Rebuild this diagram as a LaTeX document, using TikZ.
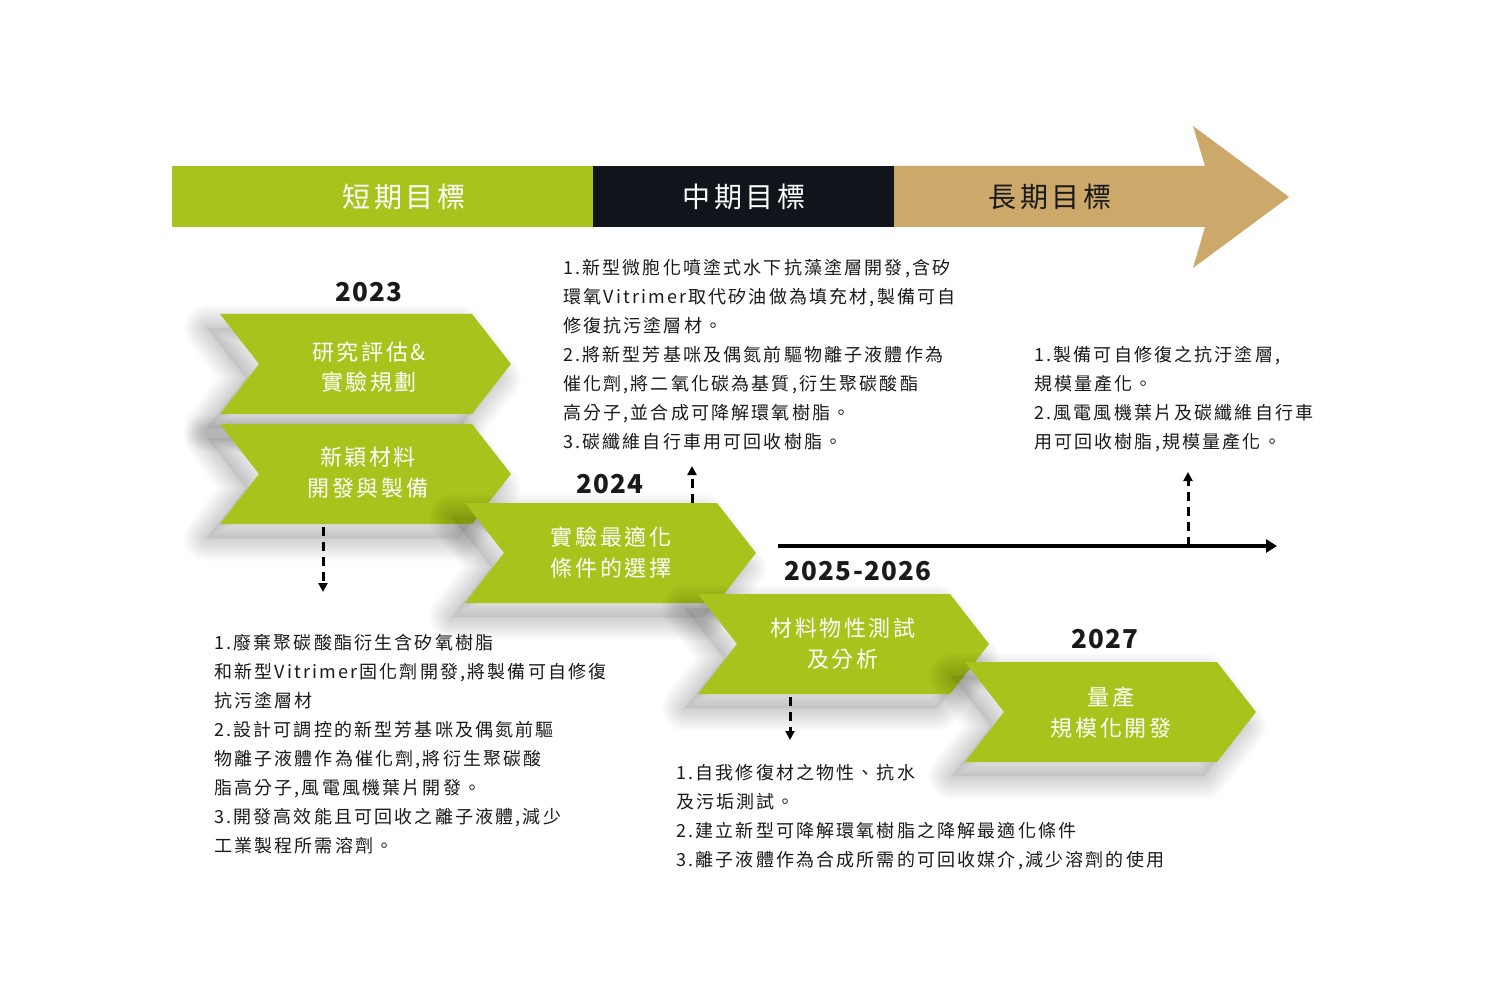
\documentclass[tikz,border=0pt]{standalone}
\usepackage{fontspec}
\setmainfont{Noto Sans CJK TC}
\newfontfamily\bodyfont[LetterSpace=12]{Noto Sans CJK TC}
\newfontfamily\yearfont[LetterSpace=5]{Noto Sans CJK TC}
\usetikzlibrary{arrows.meta}
\definecolor{lime}{HTML}{A8C31C}
\definecolor{ink}{HTML}{10151C}
\definecolor{tan}{HTML}{CCA86A}
\definecolor{txt}{HTML}{1A1A1A}
\newcommand\chevpath[2]{(#1,#2) -- ++(252,0) -- ++(39,50) -- ++(-39,50) -- ++(-252,0) -- ++(39,-50) -- cycle}
\newcommand\chevshape[2]{%
  \foreach \w in {46,42,...,2} {\draw[softshadow, line width=\w pt] \chevpath{#1-13}{#2+14};}
  \fill[black, opacity=0.06] \chevpath{#1-13}{#2+14};
  \fill[chev] \chevpath{#1}{#2};}
\begin{document}
\begin{tikzpicture}[x=1pt,y=-1pt,
  softshadow/.style={black, opacity=0.016, line join=round},
  chev/.style={fill=lime},
  chevtext/.style={text=white, align=center, anchor=base, inner sep=0pt, font=\bodyfont\fontsize{22pt}{31pt}\selectfont},
  bodytext/.style={text=txt, align=left, anchor=base west, inner sep=0pt, font=\bodyfont\fontsize{18pt}{29pt}\selectfont},
  yeartext/.style={text=txt, anchor=base, inner sep=0pt, font=\yearfont\bfseries\fontsize{26pt}{30pt}\selectfont},
  headtext/.style={anchor=base, inner sep=0pt, font=\bodyfont\fontsize{28pt}{32pt}\selectfont},
  dashline/.style={line width=3pt, dash pattern=on 9pt off 6pt, -{Triangle[length=9pt,width=9pt]}},
  timeline/.style={line width=4pt, -{Triangle[length=11pt,width=13pt]}}]
\useasboundingbox (0,0) rectangle (1500,1000);
\fill[white] (0,0) rectangle (1500,1000);

% top arrow bar
\fill[tan] (894,166) -- (1205,166) -- (1193,126) -- (1289,197) -- (1193,268) -- (1205,227) -- (894,227) -- cycle;
\fill[lime] (172,166) rectangle (593,227);
\fill[ink] (593,166) rectangle (894,227);
\node[headtext, text=white] (h1) at (404,208) {短期目標};
\node[headtext, text=white] (h2) at (744,208) {中期目標};
\node[headtext, text=txt] (h3) at (1050,208) {長期目標};

% chevrons
\chevshape{220}{314}
\chevshape{220}{424}
\chevshape{465}{503}
\chevshape{698}{594}
\chevshape{965}{662}

% (base anchor of a multi-line node = last line's baseline)
\node[chevtext] (c1) at (369,391) {研究評估\&\\實驗規劃};
\node[chevtext] (c2) at (368,496) {新穎材料\\開發與製備};
\node[chevtext] (c3) at (611,576) {實驗最適化\\條件的選擇};
\node[chevtext] (c4) at (843,667) {材料物性測試\\及分析};
\node[chevtext] (c5) at (1111,736) {量產\\規模化開發};

% years
\node[yeartext] (y1) at (369,302) {2023};
\node[yeartext] (y2) at (610,493) {2024};
\node[yeartext] (y3) at (858,580) {2025-2026};
\node[yeartext] (y4) at (1105,648) {2027};

% texts
\node[bodytext] (t1) at (563,448) {1.新型微胞化噴塗式水下抗藻塗層開發,含矽\\環氧Vitrimer取代矽油做為填充材,製備可自\\修復抗污塗層材。\\2.將新型芳基咪及偶氮前驅物離子液體作為\\催化劑,將二氧化碳為基質,衍生聚碳酸酯\\高分子,並合成可降解環氧樹脂。\\3.碳纖維自行車用可回收樹脂。};
\node[bodytext] (t2) at (1034,448) {1.製備可自修復之抗汙塗層,\\規模量產化。\\2.風電風機葉片及碳纖維自行車\\用可回收樹脂,規模量產化。};
\node[bodytext] (t3) at (214,852) {1.廢棄聚碳酸酯衍生含矽氧樹脂\\和新型Vitrimer固化劑開發,將製備可自修復\\抗污塗層材\\2.設計可調控的新型芳基咪及偶氮前驅\\物離子液體作為催化劑,將衍生聚碳酸\\脂高分子,風電風機葉片開發。\\3.開發高效能且可回收之離子液體,減少\\工業製程所需溶劑。};
\node[bodytext] (t4) at (676,866) {1.自我修復材之物性、抗水\\及污垢測試。\\2.建立新型可降解環氧樹脂之降解最適化條件\\3.離子液體作為合成所需的可回收媒介,減少溶劑的使用};

% connectors
\coordinate (s1) at (323,527);
\coordinate (e1) at (323,592);
\coordinate (s2) at (692,503);
\coordinate (e2) at (692,466);
\coordinate (tl0) at (778,546);
\coordinate (tl1) at (1277,546);
\coordinate (s3) at (1188,546);
\coordinate (e3) at (1188,472);
\coordinate (s4) at (790,697);
\coordinate (e4) at (790,740);
\draw[timeline] (tl0) -- (tl1);
\draw[dashline] (s1) -- (e1);
\draw[dashline] (s2) -- (e2);
\draw[dashline] (s3) -- (e3);
\draw[dashline] (s4) -- (e4);
\end{tikzpicture}
\end{document}
